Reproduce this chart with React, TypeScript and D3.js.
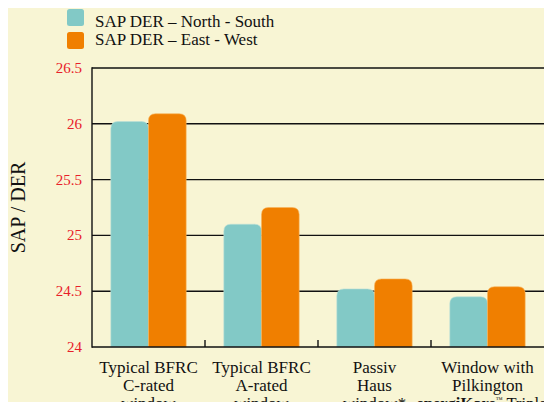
import React, { useEffect, useRef } from "react";
import * as d3 from "d3";

const categories = ["c", "a", "p", "e"];
const categoryLines = [
  ["Typical BFRC", "C-rated", "window"],
  ["Typical BFRC", "A-rated", "window"],
  ["Passiv", "Haus", "window*"],
  ["Window with", "Pilkington", "ENERGIKARE"],
];
const seriesNames = ["SAP DER – North - South", "SAP DER – East - West"];
const northSouth = [26.02, 25.1, 24.52, 24.45];
const eastWest = [26.09, 25.25, 24.61, 24.54];
const yTicks = [24, 24.5, 25, 25.5, 26, 26.5];
const colors = ["#82c9c6", "#f07f00"];

const W = 552;
const H = 410;

// rounded-top bar path
const topRounded = (x: number, y: number, w: number, h: number, r: number) => {
  const rr = Math.min(r, w / 2, h);
  return `M${x},${y + h}V${y + rr}Q${x},${y} ${x + rr},${y}H${x + w - rr}Q${x + w},${y} ${x + w},${y + rr}V${y + h}Z`;
};

const App = () => {
  const svgRef = useRef<SVGSVGElement>(null);

  useEffect(() => {
    const svg = d3.select(svgRef.current);
    svg.selectAll("*").remove();

    const margin = { top: 68, right: 8, bottom: 63, left: 92 };
    const x0 = margin.left;
    const x1 = W - margin.right;
    const yB = H - margin.bottom;

    svg.append("rect").attr("width", W).attr("height", H).attr("fill", "#f8f5d4");

    const x = d3.scaleBand<string>().domain(categories).range([x0, x1]).paddingInner(0).paddingOuter(0);
    const xs = d3.scaleBand<number>().domain([0, 1]).range([0, x.bandwidth()]).paddingOuter(0.5).paddingInner(0);
    const y = d3.scaleLinear().domain([24, 26.5]).range([yB, margin.top]);

    const font = "'Liberation Serif', 'Times New Roman', serif";

    // gridlines
    svg
      .append("g")
      .selectAll("line")
      .data(yTicks.slice(1))
      .join("line")
      .attr("x1", x0)
      .attr("x2", x1)
      .attr("y1", (d) => y(d))
      .attr("y2", (d) => y(d))
      .attr("stroke", "#111")
      .attr("stroke-width", 1.4);

    // bars
    const series = [northSouth, eastWest];
    series.forEach((vals, si) => {
      svg
        .append("g")
        .selectAll("path")
        .data(vals)
        .join("path")
        .attr("d", (d, i) => {
          const bx = (x(categories[i]) as number) + (xs(si) as number);
          const by = y(d);
          return topRounded(bx, by, xs.bandwidth(), yB - by, 7);
        })
        .attr("fill", colors[si])
        .attr("stroke", si === 0 ? "#b9dfd6" : "#f6b35a")
        .attr("stroke-width", 0.6);
    });

    // axes
    svg.append("line").attr("x1", x0).attr("x2", x0).attr("y1", margin.top - 0.7).attr("y2", yB + 0.7).attr("stroke", "#111").attr("stroke-width", 1.4);
    svg.append("line").attr("x1", x0).attr("x2", x1).attr("y1", yB).attr("y2", yB).attr("stroke", "#111").attr("stroke-width", 1.4);

    // category separators (inner ticks)
    svg
      .append("g")
      .selectAll("line")
      .data(categories.slice(1))
      .join("line")
      .attr("x1", (d) => x(d) as number)
      .attr("x2", (d) => x(d) as number)
      .attr("y1", yB)
      .attr("y2", yB - 7)
      .attr("stroke", "#111")
      .attr("stroke-width", 1.4);

    // y tick labels
    svg
      .append("g")
      .selectAll("text")
      .data(yTicks)
      .join("text")
      .attr("x", 82)
      .attr("y", (d) => y(d) + 5)
      .attr("text-anchor", "end")
      .attr("font-family", font)
      .attr("font-size", 15)
      .attr("fill", "#e8202a")
      .text((d) => d3.format("")(d));

    // y title
    svg
      .append("text")
      .attr("transform", `translate(25,${(margin.top + yB) / 2}) rotate(-90)`)
      .attr("text-anchor", "middle")
      .attr("font-family", font)
      .attr("font-size", 20)
      .attr("fill", "#111")
      .text("SAP / DER");

    // x labels
    categories.forEach((c, i) => {
      const cx = (x(c) as number) + x.bandwidth() / 2;
      const t = svg
        .append("text")
        .attr("text-anchor", "middle")
        .attr("font-family", font)
        .attr("font-size", 17)
        .attr("fill", "#111");
      categoryLines[i].forEach((line, li) => {
        const ty = 372.5 + li * 18.3;
        if (line === "ENERGIKARE") {
          t.append("tspan").attr("x", cx - 2).attr("y", ty).attr("font-weight", "bold").attr("font-size", 16.5).text("energiKare");
          t.append("tspan").attr("font-size", 7).attr("dy", -7).text("™");
          t.append("tspan").attr("dy", 7).attr("font-size", 16.5).text(" Triple*");
        } else {
          t.append("tspan").attr("x", cx).attr("y", ty).text(line);
        }
      });
    });

    // legend
    const legend = svg.append("g");
    seriesNames.forEach((name, i) => {
      legend
        .append("rect")
        .attr("x", 67)
        .attr("y", 9 + i * 23)
        .attr("width", 17)
        .attr("height", 17)
        .attr("rx", 2.5)
        .attr("fill", colors[i]);
      legend
        .append("text")
        .attr("x", 95)
        .attr("y", 26.5 + i * 18.5)
        .attr("font-family", font)
        .attr("font-size", 17)
        .attr("fill", "#111")
        .text(name);
    });
  }, []);

  return (
    <div style={{ margin: -8 }}>
      <svg ref={svgRef} width={W} height={H} style={{ display: "block" }} />
    </div>
  );
};

export default App;
